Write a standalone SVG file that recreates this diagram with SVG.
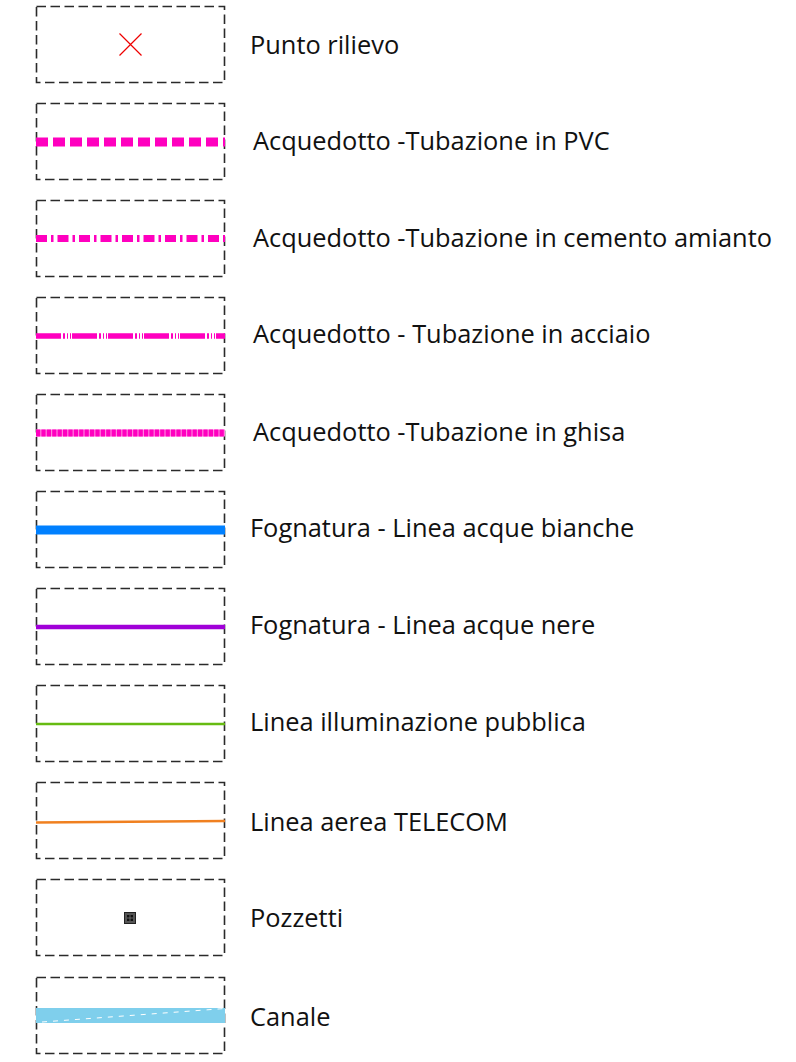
<svg xmlns="http://www.w3.org/2000/svg" width="796" height="1062" viewBox="0 0 796 1062">
<style>
.box{fill:none;stroke:#2a2a2a;stroke-width:1.6;stroke-dasharray:9.5 4.5}
.lbl{font-family:"Open Sans","Noto Sans","DejaVu Sans",sans-serif;font-size:25.4px;fill:#111}
.mag{stroke:#ff00bf;fill:none}
</style>
<rect width="796" height="1062" fill="#fff"/>
<g id="n1">
<rect class="box" x="36.5" y="6.5" width="188" height="76"/>
<path d="M119.5 33.5 L141.5 55.5 M141.5 33.5 L119.5 55.5" stroke="#e00" stroke-width="1.2" fill="none"/>
<text class="lbl" x="250" y="53.5">Punto rilievo</text>
</g>
<g id="n2">
<rect class="box" x="36.5" y="103.5" width="188" height="76"/>
<line class="mag" x1="36" y1="142" x2="225" y2="142" stroke-width="9" stroke-dasharray="12 5"/>
<text class="lbl" x="253" y="149.5">Acquedotto -Tubazione in PVC</text>
</g>
<g id="n3">
<rect class="box" x="36.5" y="200.5" width="188" height="76"/>
<line class="mag" x1="36" y1="238.5" x2="225" y2="238.5" stroke-width="7" stroke-dasharray="11 4 2.5 4"/>
<text class="lbl" x="253" y="246.5">Acquedotto -Tubazione in cemento amianto</text>
</g>
<g id="n4">
<rect class="box" x="36.5" y="297.5" width="188" height="76"/>
<line class="mag" x1="36" y1="336" x2="225" y2="336" stroke-width="5.5" stroke-dasharray="25 2 2 2 1 2 1 1"/>
<text class="lbl" x="253" y="342.5">Acquedotto - Tubazione in acciaio</text>
</g>
<g id="n5">
<rect class="box" x="36.5" y="394.5" width="188" height="76"/>
<line x1="36" y1="433" x2="225" y2="433" stroke="#ff80df" stroke-width="7"/>
<line class="mag" x1="36" y1="433" x2="225" y2="433" stroke-width="7" stroke-dasharray="4.2 1.2"/>
<text class="lbl" x="253" y="440.5">Acquedotto -Tubazione in ghisa</text>
</g>
<g id="n6">
<rect class="box" x="36.5" y="491.5" width="188" height="76"/>
<line x1="36" y1="530" x2="225" y2="530" stroke="#0080ff" stroke-width="9"/>
<text class="lbl" x="250" y="536.5">Fognatura - Linea acque bianche</text>
</g>
<g id="n7">
<rect class="box" x="36.5" y="588.5" width="188" height="76"/>
<line x1="36" y1="627" x2="225" y2="627" stroke="#a000d8" stroke-width="4.5"/>
<text class="lbl" x="250" y="633.5">Fognatura - Linea acque nere</text>
</g>
<g id="n8">
<rect class="box" x="36.5" y="685.5" width="188" height="76"/>
<line x1="36" y1="724" x2="225" y2="724" stroke="#66bb11" stroke-width="2.5"/>
<text class="lbl" x="250" y="730.5">Linea illuminazione pubblica</text>
</g>
<g id="n9">
<rect class="box" x="36.5" y="782.5" width="188" height="76"/>
<line x1="36" y1="822.5" x2="225" y2="821" stroke="#f08020" stroke-width="2.5"/>
<text class="lbl" x="250" y="830.5">Linea aerea TELECOM</text>
</g>
<g id="n10">
<rect class="box" x="36.5" y="879.5" width="188" height="76"/>
<rect x="124.5" y="912.5" width="11" height="11" fill="#555" stroke="#222" stroke-width="1"/>
<rect x="127" y="915" width="6" height="6" fill="#111"/>
<path d="M130 915 V921 M127 918 H133" stroke="#777" stroke-width="0.8"/>
<text class="lbl" x="250" y="926.5">Pozzetti</text>
</g>
<g id="n11">
<rect class="box" x="36.5" y="977.5" width="188" height="76"/>
<rect x="36" y="1008" width="189" height="15" fill="#7fcfec"/>
<line x1="42" y1="1022" x2="225" y2="1008.5" stroke="#fff" stroke-width="1" stroke-dasharray="5 6"/>
<text class="lbl" x="250" y="1025.5">Canale</text>
</g>
</svg>
